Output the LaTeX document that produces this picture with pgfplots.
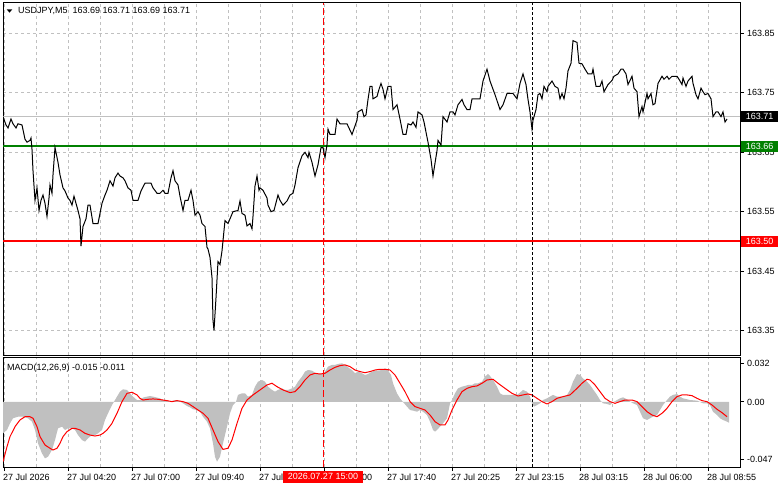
\documentclass[border=0pt]{standalone}
\usepackage{pgfplots}
\pgfplotsset{compat=1.18}
\usepackage{fontspec}
\setmainfont{Liberation Sans}
\definecolor{mtgreen}{RGB}{0,128,0}
\definecolor{mtred}{RGB}{255,0,0}
\definecolor{gridgray}{RGB}{192,192,192}
\definecolor{histgray}{RGB}{192,192,192}

\pgfplotstableread{
x v
3 -0.0258
7 -0.0230
10 -0.0176
13 -0.0134
18 -0.0121
23 -0.0121
28 -0.0134
32 -0.0162
35 -0.0230
38 -0.0340
42 -0.0423
45 -0.0464
48 -0.0450
52 -0.0395
55 -0.0313
58 -0.0217
62 -0.0203
65 -0.0230
68 -0.0217
72 -0.0217
75 -0.0230
78 -0.0272
82 -0.0313
85 -0.0326
88 -0.0299
92 -0.0272
95 -0.0272
98 -0.0258
102 -0.0230
105 -0.0148
108 -0.0093
112 -0.0025
115 0.0016
117 0.0044
120 0.0085
123 0.0104
127 0.0099
130 0.0071
133 0.0044
137 0.0016
140 0.0016
143 0.0036
147 0.0044
150 0.0049
153 0.0044
157 0.0036
160 0.0030
163 0.0016
167 0.0011
170 0.0003
173 0.0011
177 0.0016
180 0.0003
183 -0.0011
187 -0.0033
190 -0.0044
193 -0.0060
197 -0.0066
200 -0.0080
203 -0.0121
207 -0.0162
210 -0.0217
213 -0.0340
215 -0.0450
217 -0.0491
220 -0.0450
223 -0.0340
227 -0.0203
230 -0.0093
233 -0.0025
236 0.0000
238 0.0058
242 0.0071
245 0.0071
248 0.0044
252 0.0058
255 0.0126
258 0.0167
262 0.0181
265 0.0167
268 0.0126
272 0.0099
275 0.0085
278 0.0099
282 0.0112
285 0.0099
288 0.0099
292 0.0112
295 0.0126
298 0.0167
302 0.0209
305 0.0250
308 0.0263
312 0.0258
315 0.0241
318 0.0230
322 0.0230
325 0.0250
328 0.0291
332 0.0305
335 0.0305
338 0.0313
342 0.0318
345 0.0305
348 0.0285
352 0.0263
355 0.0236
358 0.0250
362 0.0236
365 0.0222
368 0.0230
372 0.0250
375 0.0258
378 0.0258
382 0.0263
385 0.0277
388 0.0260
391 0.0222
393 0.0154
397 0.0071
400 0.0030
403 0.0000
407 -0.0038
410 -0.0066
413 -0.0071
417 -0.0080
420 -0.0066
423 -0.0080
427 -0.0107
430 -0.0162
433 -0.0230
435 -0.0244
437 -0.0230
440 -0.0203
443 -0.0176
447 -0.0134
450 -0.0011
452 0.0016
455 0.0071
458 0.0112
462 0.0126
465 0.0132
468 0.0140
472 0.0140
475 0.0154
478 0.0154
482 0.0167
485 0.0209
488 0.0230
490 0.0214
493 0.0181
497 0.0126
500 0.0071
503 0.0058
507 0.0058
513 0.0058
517 0.0058
520 0.0077
523 0.0099
527 0.0085
530 0.0044
532 -0.0011
534 -0.0038
537 -0.0025
540 -0.0011
543 0.0016
547 0.0030
550 0.0044
553 0.0058
557 0.0044
563 0.0044
567 0.0058
570 0.0099
573 0.0167
577 0.0230
580 0.0222
583 0.0194
587 0.0167
590 0.0140
593 0.0104
597 0.0058
600 0.0016
603 -0.0011
607 -0.0016
610 -0.0025
613 -0.0003
617 0.0016
620 0.0030
623 0.0038
627 0.0022
630 0.0003
633 -0.0011
637 -0.0025
640 -0.0080
643 -0.0134
647 -0.0148
650 -0.0134
653 -0.0121
657 -0.0107
660 -0.0066
663 -0.0025
667 0.0016
670 0.0044
673 0.0058
677 0.0066
680 0.0044
683 0.0030
687 0.0022
690 0.0016
697 0.0011
700 0.0000
703 -0.0011
707 -0.0011
710 -0.0025
713 -0.0080
717 -0.0107
720 -0.0134
723 -0.0148
727 -0.0162
729 -0.0170
}\histtable

\pgfplotstableread{
x v
3 -0.0491
7 -0.0368
10 -0.0285
15 -0.0203
20 -0.0148
25 -0.0121
30 -0.0121
33 -0.0134
37 -0.0203
40 -0.0285
45 -0.0354
50 -0.0381
53 -0.0395
57 -0.0381
60 -0.0340
63 -0.0285
67 -0.0244
72 -0.0217
75 -0.0217
80 -0.0230
85 -0.0258
90 -0.0272
95 -0.0280
100 -0.0272
103 -0.0258
107 -0.0230
112 -0.0176
117 -0.0093
122 0.0003
127 0.0071
132 0.0080
137 0.0058
140 0.0030
143 0.0016
148 0.0022
153 0.0025
158 0.0022
163 0.0016
167 0.0011
172 0.0003
177 0.0011
183 0.0003
188 -0.0011
193 -0.0038
198 -0.0066
203 -0.0093
208 -0.0134
213 -0.0230
218 -0.0326
223 -0.0390
228 -0.0381
232 -0.0313
237 -0.0176
242 -0.0052
247 0.0016
253 0.0058
260 0.0099
267 0.0140
272 0.0154
277 0.0126
283 0.0099
290 0.0077
295 0.0085
300 0.0126
305 0.0181
310 0.0222
315 0.0236
320 0.0230
325 0.0236
330 0.0263
335 0.0285
340 0.0299
345 0.0305
350 0.0291
355 0.0263
360 0.0250
365 0.0241
370 0.0250
375 0.0263
380 0.0269
385 0.0269
390 0.0263
395 0.0222
400 0.0154
405 0.0085
410 0.0003
415 -0.0038
420 -0.0052
425 -0.0066
430 -0.0107
435 -0.0162
440 -0.0189
445 -0.0189
448 -0.0148
452 -0.0066
457 0.0016
462 0.0085
467 0.0112
472 0.0126
477 0.0132
482 0.0154
487 0.0181
493 0.0187
498 0.0154
505 0.0112
512 0.0071
518 0.0049
523 0.0058
528 0.0066
532 0.0058
537 0.0030
542 0.0003
547 -0.0016
552 0.0003
557 0.0030
563 0.0044
570 0.0058
577 0.0112
582 0.0154
587 0.0187
590 0.0181
595 0.0140
600 0.0085
605 0.0030
610 0.0003
615 -0.0011
620 0.0003
625 0.0016
632 0.0016
637 0.0003
642 -0.0038
647 -0.0080
652 -0.0107
657 -0.0121
662 -0.0093
667 -0.0052
672 0.0003
677 0.0044
682 0.0058
687 0.0058
692 0.0052
697 0.0030
702 0.0011
707 0.0003
712 -0.0025
717 -0.0060
722 -0.0088
727 -0.0121
}\sigtable

\pgfplotstableread{
x p
3 163.710
6 163.696
8 163.691
11 163.706
13 163.698
16 163.691
18 163.698
22 163.696
25 163.672
27 163.667
30 163.670
31 163.674
32 163.655
33 163.619
35 163.569
37 163.590
39 163.552
41 163.569
43 163.578
45 163.564
47 163.542
49 163.573
50 163.595
52 163.581
53 163.612
55 163.658
58 163.633
60 163.612
63 163.590
65 163.585
68 163.573
70 163.569
72 163.561
74 163.576
76 163.564
78 163.552
80 163.538
81 163.492
83 163.525
86 163.538
88 163.561
90 163.561
93 163.530
98 163.530
100 163.547
102 163.564
105 163.578
107 163.586
110 163.602
113 163.593
115 163.607
118 163.615
120 163.610
123 163.607
125 163.602
128 163.590
131 163.586
133 163.569
138 163.569
141 163.585
145 163.598
151 163.598
153 163.590
157 163.581
160 163.581
163 163.586
165 163.581
168 163.581
171 163.607
173 163.619
175 163.602
178 163.595
180 163.576
183 163.552
185 163.569
188 163.569
191 163.586
193 163.569
195 163.544
198 163.550
200 163.544
202 163.530
205 163.525
207 163.490
208 163.487
210 163.473
212 163.439
213 163.367
214 163.350
216 163.405
218 163.466
220 163.461
222 163.484
225 163.535
228 163.530
233 163.550
238 163.552
240 163.568
242 163.547
245 163.544
247 163.526
250 163.530
252 163.521
253 163.542
255 163.593
257 163.610
259 163.586
260 163.590
263 163.586
267 163.573
268 163.561
271 163.550
274 163.552
278 163.578
280 163.569
283 163.561
287 163.568
290 163.578
293 163.581
295 163.595
298 163.624
302 163.644
305 163.650
308 163.641
309 163.650
312 163.633
315 163.610
318 163.629
321 163.658
323 163.658
325 163.641
327 163.663
328 163.689
330 163.680
335 163.680
337 163.706
340 163.698
347 163.698
352 163.680
357 163.704
358 163.718
362 163.722
364 163.710
366 163.713
368 163.739
370 163.761
372 163.761
373 163.740
377 163.744
379 163.756
381 163.766
383 163.756
385 163.740
388 163.761
391 163.761
393 163.722
397 163.730
400 163.706
403 163.680
406 163.680
408 163.698
411 163.696
413 163.701
416 163.692
418 163.718
422 163.713
424 163.701
428 163.667
431 163.638
433 163.610
434 163.621
437 163.653
438 163.670
441 163.662
443 163.710
447 163.701
450 163.718
453 163.718
455 163.713
458 163.730
462 163.739
464 163.730
467 163.722
470 163.722
472 163.740
480 163.740
483 163.770
487 163.790
490 163.770
495 163.747
500 163.722
503 163.730
507 163.749
513 163.749
517 163.740
520 163.766
523 163.782
526 163.764
528 163.739
530 163.718
532 163.689
533 163.704
536 163.722
538 163.747
540 163.749
542 163.740
544 163.761
547 163.752
548 163.761
552 163.770
555 163.761
558 163.758
560 163.740
562 163.749
564 163.740
566 163.758
568 163.787
571 163.800
573 163.838
577 163.835
579 163.800
582 163.799
585 163.790
588 163.782
592 163.782
593 163.790
596 163.761
600 163.761
602 163.770
604 163.752
608 163.764
612 163.771
614 163.778
618 163.782
621 163.790
623 163.790
626 163.782
628 163.764
632 163.778
634 163.758
637 163.752
639 163.710
642 163.727
643 163.718
647 163.749
648 163.740
651 163.749
653 163.730
655 163.732
658 163.766
662 163.778
664 163.773
667 163.778
669 163.773
672 163.778
677 163.778
679 163.773
682 163.764
683 163.775
686 163.761
688 163.770
692 163.778
693 163.766
696 163.747
698 163.740
701 163.758
703 163.752
705 163.747
708 163.749
711 163.740
713 163.710
716 163.718
718 163.718
721 163.710
723 163.718
725 163.701
727 163.706
}\pricetable

\begin{document}
\begin{tikzpicture}[font=\fontsize{9}{11}\selectfont, line width=1pt,
  valbox/.style={anchor=west, inner xsep=0pt, inner ysep=2pt, minimum width=37pt, text=white, font=\fontsize{9}{11}\selectfont}]
\path[fill=white,use as bounding box] (0,0) rectangle (781pt,-489pt);

\begin{axis}[
  name=top, at={(3pt,-3pt)}, anchor=north west,
  scale only axis, width=737pt, height=352pt,
  xmin=3, xmax=740, ymin=163.3086, ymax=163.9014,
  axis line style={black, line width=1pt},
  xtick={4,68,132,196,260,324,388,452,516,580,644,708},
  minor xtick={36,100,164,228,292,356,420,484,548,612,676},
  xticklabels={}, xticklabel=\empty, xmajorgrids, xminorgrids,
  scaled x ticks=false, scaled y ticks=false,
  major x tick style={draw=none}, minor x tick style={draw=none},
  ytick={163.35,163.45,163.55,163.65,163.75,163.85},
  yticklabels={163.35,163.45,163.55,163.65,163.75,163.85},
  ymajorgrids,
  ytick pos=right, yticklabel pos=right,
  tick align=outside, major tick length=4pt,
  y tick style={black, line width=1pt},
  grid style={gridgray, dash pattern=on 3pt off 3pt, line width=1pt},
  yticklabel style={anchor=west, inner sep=0pt, xshift=3pt, font=\fontsize{9}{11}\selectfont},
]
\addplot[gridgray, line width=1pt] coordinates {(3,163.71) (740,163.71)};
\addplot[mtgreen, line width=2pt] coordinates {(3,163.66) (740,163.66)};
\addplot[mtred, line width=2pt] coordinates {(3,163.50) (740,163.50)};
\draw[mtred, dash pattern=on 7pt off 3pt, line width=1pt] (axis cs:323,163.3086) -- (axis cs:323,163.9014);
\draw[black, dash pattern=on 3pt off 2pt, line width=1pt] (axis cs:532,163.3086) -- (axis cs:532,163.9014);
\addplot[black, line width=1pt] table[x=x,y=p] {\pricetable};
\coordinate (bid) at (axis cs:740,163.71);
\coordinate (grn) at (axis cs:740,163.66);
\coordinate (rd) at (axis cs:740,163.50);
\end{axis}

\begin{axis}[
  name=macd, at={(3pt,-357pt)}, anchor=north west,
  scale only axis, width=737pt, height=110pt,
  xmin=3, xmax=740, ymin=-0.0535, ymax=0.0370,
  axis line style={black, line width=1pt},
  scaled x ticks=false, scaled y ticks=false,
  xtick={4,68,132,196,260,324,388,452,516,580,644,708},
  xticklabels={27 Jul 2026,27 Jul 04:20,27 Jul 07:00,27 Jul 09:40,27 Jul 12:20,27 Jul 15:00,27 Jul 17:40,27 Jul 20:25,27 Jul 23:15,28 Jul 03:15,28 Jul 06:00,28 Jul 08:55},
  minor xtick={36,100,164,228,292,356,420,484,548,612,676},
  xmajorgrids, xminorgrids,
  minor x tick style={draw=none},
  xtick pos=bottom, ytick pos=right, yticklabel pos=right,
  tick align=outside, major tick length=4pt,
  tick style={black, line width=1pt},
  ytick={-0.047,0,0.032},
  yticklabels={-0.047,0.00,0.032},
  grid style={gridgray, dash pattern=on 3pt off 3pt, line width=1pt},
  yticklabel style={anchor=west, inner sep=0pt, xshift=3pt, font=\fontsize{9}{11}\selectfont},
  xticklabel style={anchor=north west, inner sep=0pt, xshift=-1pt, yshift=-3pt, font=\fontsize{9}{11}\selectfont},
]
\addplot[fill=histgray, draw=none] table[x=x,y=v] {\histtable} \closedcycle;
\addplot[mtred, line width=1pt] table[x=x,y=v] {\sigtable};
\draw[mtred, dash pattern=on 7pt off 3pt, line width=1pt] (axis cs:323,-0.0535) -- (axis cs:323,0.0370);
\draw[black, dash pattern=on 3pt off 2pt, line width=1pt] (axis cs:532,-0.0535) -- (axis cs:532,0.0370);
\end{axis}

\node[valbox, fill=black] at ([xshift=1pt]bid) {163.71};
\node[valbox, fill=mtgreen] at ([xshift=1pt]grn) {163.66};
\node[valbox, fill=mtred] at ([xshift=1pt]rd) {163.50};
\node[fill=mtred, text=white, inner xsep=4.5pt, inner ysep=2.8pt] at (323pt,-476.7pt) {2026.07.27 15:00};

\fill[black] (6.7pt,-9.3pt) -- (12.3pt,-9.3pt) -- (9.5pt,-12.7pt) -- cycle;
\node[anchor=base west, inner sep=0pt] at (18pt,-14pt) {USDJPY,M5\ \ 163.69 163.71 163.69 163.71};
\node[anchor=base west, inner sep=0pt] at (7pt,-370pt) {MACD(12,26,9) -0.015 -0.011};
\end{tikzpicture}
\end{document}
